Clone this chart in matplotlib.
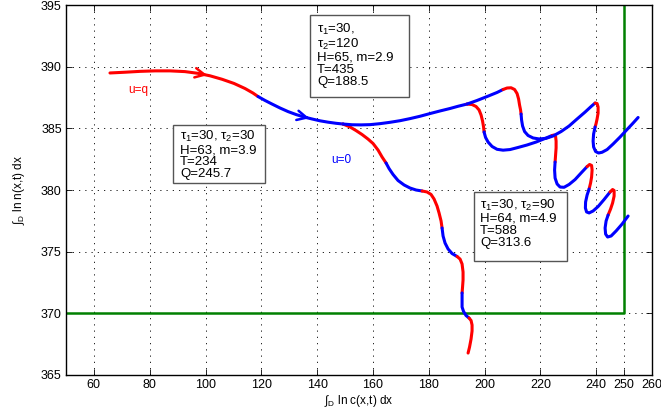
import matplotlib
matplotlib.use("Agg")
import matplotlib.pyplot as plt
from matplotlib.patches import Rectangle

plt.rcParams['font.family'] = ['Liberation Sans', 'DejaVu Sans']
plt.rcParams['mathtext.fontset'] = 'custom'
plt.rcParams['mathtext.rm'] = 'Liberation Sans'
plt.rcParams['mathtext.it'] = 'Liberation Sans'

# shared start: u=q (red) then u=0 (blue) up to the first branch point
start_red_x = [65.77, 71.15, 76.52, 81.90, 87.28, 92.65, 97.31, 101.61, 105.91, 110.22, 114.16, 117.03, 118.82]
start_red_y = [389.49, 389.55, 389.62, 389.66, 389.66, 389.60, 389.46, 389.26, 388.98, 388.64, 388.23, 387.86, 387.58]
start_blue_x = [118.82, 121.33, 123.84, 126.70, 129.57, 132.44, 135.30, 138.17, 141.04, 143.91, 146.77, 149.28]
start_blue_y = [387.58, 387.26, 386.97, 386.65, 386.36, 386.12, 385.92, 385.76, 385.61, 385.50, 385.41, 385.35]

# tau2 = 30 run, segments alternate red / blue
tau30_x = [
    [149.28, 151.79, 153.94, 156.09, 158.24, 160.04, 161.83, 163.26, 164.70],
    [164.70, 165.77, 167.20, 168.99, 171.15, 173.30, 175.45, 177.60],
    [177.60, 179.39, 180.82, 181.90, 182.97, 183.69, 184.41, 184.77],
    [184.77, 185.13, 185.84, 186.92, 188.35, 190.14],
    [190.14, 191.22, 191.94, 192.29, 192.29, 192.11, 191.94],
    [191.94, 191.94, 191.94, 192.47, 193.37, 194.44],
    [194.44, 195.16, 195.52, 195.52, 195.16, 194.62, 194.09],
]
tau30_y = [
    [385.35, 385.11, 384.82, 384.50, 384.13, 383.77, 383.24, 382.68, 382.19],
    [382.19, 381.74, 381.26, 380.77, 380.41, 380.16, 380.00, 379.92],
    [379.92, 379.84, 379.64, 379.27, 378.70, 378.14, 377.49, 376.92],
    [376.92, 376.27, 375.70, 375.22, 374.85, 374.61],
    [374.61, 374.40, 374.00, 373.35, 372.70, 372.13, 371.65],
    [371.65, 371.08, 370.51, 370.15, 369.82, 369.62],
    [369.62, 369.42, 369.05, 368.57, 367.92, 367.27, 366.78],
]

# shared blue part of the tau2 = 90 and tau2 = 120 runs
mid_blue_x = [149.28, 152.51, 155.73, 158.96, 162.54, 166.13, 169.71, 173.30, 176.88, 180.47, 184.05, 187.63, 190.50, 193.73]
mid_blue_y = [385.35, 385.29, 385.28, 385.30, 385.38, 385.49, 385.62, 385.79, 385.98, 386.20, 386.41, 386.61, 386.79, 386.97]

# tau2 = 90 run, starts red
tau90_x = [
    [193.73, 195.52, 196.95, 198.03, 198.75, 199.28, 199.64, 199.82],
    [199.82, 200.36, 201.25, 202.69, 204.48, 206.63, 209.14, 212.01, 215.23, 218.46, 221.68, 224.19],
    [224.19, 224.91, 225.45, 225.63, 225.63, 225.45, 225.27],
    [225.27, 225.09, 225.27, 225.99, 227.06, 228.49, 230.29, 232.44, 234.59, 236.74],
    [236.74, 237.63, 238.35, 238.53, 238.35, 237.99, 237.46],
    [237.46, 236.74, 236.20, 236.13, 236.56, 237.46, 238.89, 240.68, 242.83, 244.98],
    [244.98, 245.88, 246.42, 246.42, 245.88, 245.16, 244.27],
    [244.27, 243.55, 243.19, 243.37, 244.09, 245.34, 247.13, 249.28, 251.43],
]
tau90_y = [
    [386.97, 386.93, 386.77, 386.49, 386.08, 385.59, 385.11, 384.70],
    [384.70, 384.26, 383.89, 383.53, 383.30, 383.23, 383.28, 383.45, 383.65, 383.89, 384.18, 384.42],
    [384.42, 384.46, 384.34, 383.97, 383.41, 382.84, 382.27],
    [382.27, 381.62, 380.97, 380.49, 380.24, 380.22, 380.45, 380.85, 381.38, 381.90],
    [381.90, 382.07, 381.99, 381.62, 381.05, 380.57, 380.08],
    [380.08, 379.59, 379.03, 378.54, 378.22, 378.14, 378.30, 378.66, 379.23, 379.84],
    [379.84, 380.04, 379.96, 379.51, 378.95, 378.46, 377.97],
    [377.97, 377.49, 376.92, 376.43, 376.19, 376.27, 376.68, 377.24, 377.89],
]

# tau2 = 120 run, still blue first
tau120_x = [
    [193.73, 197.31, 200.90, 204.48, 206.63],
    [206.63, 208.06, 209.50, 210.75, 211.65, 212.19, 212.54, 212.90, 213.08],
    [213.08, 213.26, 213.62, 214.34, 215.59, 217.38, 219.53, 222.04, 224.55, 227.42, 230.29, 233.15, 236.02, 238.17, 239.61],
    [239.61, 240.32, 240.68, 240.68, 240.32, 239.96, 239.61],
    [239.61, 239.07, 238.89, 239.07, 239.78, 240.86, 242.11, 243.91, 246.06, 248.57, 251.08, 253.23, 255.02],
]
tau120_y = [
    [386.97, 387.26, 387.58, 387.91, 388.15],
    [388.15, 388.27, 388.29, 388.15, 387.82, 387.38, 386.89, 386.49, 386.16],
    [386.16, 385.68, 385.19, 384.74, 384.42, 384.22, 384.14, 384.19, 384.38, 384.74, 385.19, 385.76, 386.32, 386.77, 387.05],
    [387.05, 387.01, 386.73, 386.24, 385.76, 385.39, 385.11],
    [385.11, 384.54, 383.97, 383.49, 383.12, 383.00, 383.06, 383.28, 383.73, 384.30, 384.91, 385.43, 385.88],
]

# green constraint lines
green_x = [50, 250, 250]
green_y = [370, 370, 396]

xticks = [60, 80, 100, 120, 140, 160, 180, 200, 220, 240, 250, 260]
yticks = [365, 370, 375, 380, 385, 390, 395]

box_texts = [
    r'$\tau_1$=30,' + '\n' + r'$\tau_2$=120' + '\nH=65, m=2.9\nT=435\nQ=188.5',
    r'$\tau_1$=30, $\tau_2$=30' + '\nH=63, m=3.9\nT=234\nQ=245.7',
    r'$\tau_1$=30, $\tau_2$=90' + '\nH=64, m=4.9\nT=588\nQ=313.6',
]
# text anchor (left, top) and frame (x0, x1, y0, y1), data units
box_pos = [(140.0, 393.65), (90.9, 384.95), (198.4, 379.4)]
box_frame = [(137.46, 172.94, 387.54, 394.19), (88.35, 121.33, 380.57, 385.27), (196.24, 229.57, 374.24, 379.84)]

RED = '#ff0000'
BLUE = '#0000ff'
LW = 2.2


def draw_segments(ax, xs, ys, first):
    colors = [RED, BLUE] if first == 'red' else [BLUE, RED]
    for i, (sx, sy) in enumerate(zip(xs, ys)):
        ax.plot(sx, sy, color=colors[i % 2], lw=LW, solid_capstyle='round', zorder=3)


def main():
    fig = plt.figure(figsize=(6.61, 4.11), dpi=100)
    ax = fig.add_axes([0.0998, 0.0876, 0.8866, 0.9002])

    ax.plot(green_x, green_y, color='#008000', lw=1.8, zorder=2)

    ax.plot(start_red_x, start_red_y, color=RED, lw=LW, solid_capstyle='round', zorder=3)
    ax.plot(start_blue_x, start_blue_y, color=BLUE, lw=LW, solid_capstyle='round', zorder=3)
    draw_segments(ax, tau30_x, tau30_y, 'red')
    ax.plot(mid_blue_x, mid_blue_y, color=BLUE, lw=LW, solid_capstyle='round', zorder=3)
    draw_segments(ax, tau90_x, tau90_y, 'red')
    draw_segments(ax, tau120_x, tau120_y, 'blue')

    # direction arrows on the shared start
    ax.annotate('', xy=(start_red_x[7], start_red_y[7]), xytext=(start_red_x[6], start_red_y[6]),
                arrowprops=dict(arrowstyle='->', color=RED, lw=1.8, mutation_scale=17), zorder=4)
    ax.annotate('', xy=(start_blue_x[7], start_blue_y[7]), xytext=(start_blue_x[6], start_blue_y[6]),
                arrowprops=dict(arrowstyle='->', color=BLUE, lw=1.8, mutation_scale=17), zorder=4)

    ax.text(76.0, 388.1, 'u=q', color=RED, fontsize=8.5, ha='center', va='center')
    ax.text(148.6, 382.4, 'u=0', color=BLUE, fontsize=8.5, ha='center', va='center')

    for txt, (tx, ty), (x0, x1, y0, y1) in zip(box_texts, box_pos, box_frame):
        ax.add_patch(Rectangle((x0, y0), x1 - x0, y1 - y0, fc='white', ec='#555555', lw=1.0, zorder=5))
        ax.text(tx, ty, txt, fontsize=9.5, ha='left', va='top', linespacing=1.0, zorder=6)

    ax.set_xlim(50, 260)
    ax.set_ylim(365, 395)
    ax.set_xticks(xticks)
    ax.set_yticks(yticks)
    ax.tick_params(direction='in', length=4, width=0.6, top=True, right=True, labelsize=9, pad=3)
    ax.grid(True, linestyle=(0, (1.5, 6)), color='black', lw=0.6)
    for s in ax.spines.values():
        s.set_linewidth(1.0)

    ax.set_xlabel(r'∫$_D$ ln c(x,t) dx', fontsize=8.5, labelpad=1)
    ax.set_ylabel(r'∫$_D$ ln n(x,t) dx', fontsize=8.5, labelpad=10)

    plt.savefig("out.png", dpi=100)
    plt.close()


if __name__ == "__main__":
    main()
